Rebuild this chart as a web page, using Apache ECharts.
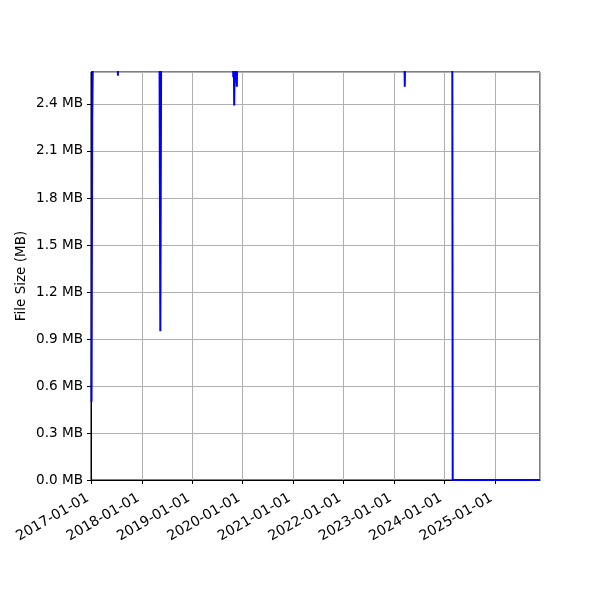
<!DOCTYPE html>
<html>
<head>
<meta charset="utf-8">
<script src="https://cdn.jsdelivr.net/npm/echarts@6/dist/echarts.min.js"></script>
<style>html,body{margin:0;padding:0;background:#fff}#c{width:600px;height:600px}</style>
</head>
<body>
<div id="c"></div>
<script>
// File size over time (MB); values above the axis top are clipped, as in the reference
var dates = [
  '2017-01-02','2017-01-07','2017-01-12',
  '2017-07-10','2017-07-12','2017-07-14',
  '2018-05-09','2018-05-15','2018-05-21',
  '2019-10-22','2019-10-25','2019-10-28','2019-11-01','2019-11-05','2019-11-17','2019-11-20','2019-11-23',
  '2023-03-17','2023-03-20','2023-03-23',
  '2024-02-27','2024-03-01','2025-06-01','2025-11-23'
];
var sizes = [
  0.50, 2.30, 2.75,
  2.75, 2.58, 2.75,
  2.75, 0.95, 2.75,
  2.75, 2.57, 2.75, 2.39, 2.75, 2.75, 2.51, 2.75,
  2.75, 2.51, 2.75,
  2.75, 0.00, 0.00, 0.00
];
var yTicks = [0.0, 0.3, 0.6, 0.9, 1.2, 1.5, 1.8, 2.1, 2.4];

function ts(s){ var p = s.split('-'); return Date.UTC(+p[0], +p[1]-1, +p[2]); }
var data = dates.map(function(d, i){ return [ts(d), sizes[i]]; });

var chart = echarts.init(document.getElementById('c'), null, {renderer: 'canvas'});
var font = 'DejaVu Sans';
chart.setOption({
  useUTC: true,
  animation: false,
  backgroundColor: '#ffffff',
  grid: {left: 91, right: 60, top: 72, bottom: 120, show: true, borderColor: '#000', borderWidth: 1, backgroundColor: 'transparent'},
  xAxis: {
    type: 'time',
    min: ts('2016-12-29'),
    max: ts('2025-11-23'),
    splitNumber: 9,
    minInterval: 365 * 86400000,
    maxInterval: 366 * 86400000,
    axisLine: {show: true, lineStyle: {color: '#000', width: 1}},
    axisTick: {show: true, length: 4, lineStyle: {color: '#000'}},
    axisLabel: {
      rotate: 30, fontFamily: font, fontSize: 14, color: '#000', margin: 15,
      padding: [0, 4, 0, 0],
      showMinLabel: false, showMaxLabel: false,
      formatter: function(v){ return echarts.time.format(v, '{yyyy}-{MM}-{dd}', true); }
    },
    splitLine: {show: true, lineStyle: {color: '#b0b0b0', width: 1}}
  },
  yAxis: {
    type: 'value',
    min: 0,
    max: 2.604,
    interval: 0.3,
    name: 'File Size (MB)',
    nameLocation: 'middle',
    nameGap: 63,
    nameMoveOverlap: false,
    nameRotate: 90,
    nameTextStyle: {fontFamily: font, fontSize: 13.5, color: '#000'},
    axisLine: {show: true, lineStyle: {color: '#000', width: 1}},
    axisTick: {show: true, length: 4, lineStyle: {color: '#000'}},
    axisLabel: {
      fontFamily: font, fontSize: 13.6, color: '#000', margin: 8,
      showMaxLabel: false,
      formatter: function(v){
        for (var i = 0; i < yTicks.length; i++) { if (Math.abs(v - yTicks[i]) < 1e-6) return yTicks[i].toFixed(1) + ' MB'; }
        return '';
      }
    },
    splitLine: {show: true, lineStyle: {color: '#b0b0b0', width: 1}}
  },
  series: [{
    type: 'line',
    data: data,
    showSymbol: false,
    clip: true,
    lineStyle: {color: '#0000ff', width: 2},
    itemStyle: {color: '#0000ff'}
  }]
});
</script>
</body>
</html>
